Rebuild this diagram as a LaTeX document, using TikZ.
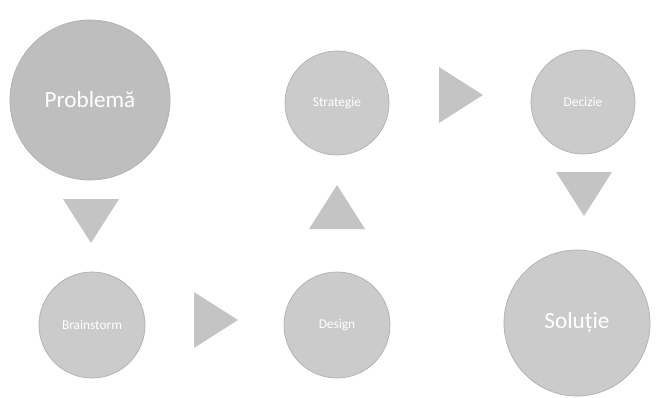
\documentclass[tikz,border=0pt]{standalone}
\usepackage{fontspec}
\setmainfont{Carlito}
\usepackage{tikz}

\definecolor{bubble}{HTML}{CBCBCB}
\definecolor{bigbubble}{HTML}{BEBEBE}
\definecolor{rim}{HTML}{B0B0B0}
\definecolor{wedge}{HTML}{C4C4C4}

\begin{document}
\begin{tikzpicture}[x=0.025cm,y=0.025cm,
    step node/.style={circle,fill=bubble,draw=rim,line width=0.5pt,
      text=white,font=\fontsize{9.5}{11}\selectfont,inner sep=0pt},
    big node/.style={step node,fill=bigbubble,font=\fontsize{16.5}{19}\selectfont}]
    \useasboundingbox (0,0) rectangle (656,397);
    \node[big node,minimum size=4cm] (prob) at (90,297) {Problemă};
    \node[step node,minimum size=2.65cm] (brain) at (92,72) {Brainstorm};
    \node[step node,minimum size=2.65cm] (design) at (337,72) {Design};
    \node[step node,minimum size=2.6cm] (strat) at (337,294) {Strategie};
    \node[step node,minimum size=2.6cm] (deciz) at (583,295) {Decizie};
    \node[big node,fill=bubble,minimum size=3.65cm] (solut) at (577,74) {Soluție};
    \foreach \x/\y/\ang in {
      91/176/-90,
      216/77/0,
      337/190/90,
      461/302/0,
      584/203/-90}{
      \fill[wedge,shift={(\x,\y)},rotate=\ang]
        (-22,-28) -- (22,0) -- (-22,28) -- cycle;
    }
  \end{tikzpicture}
\end{document}
